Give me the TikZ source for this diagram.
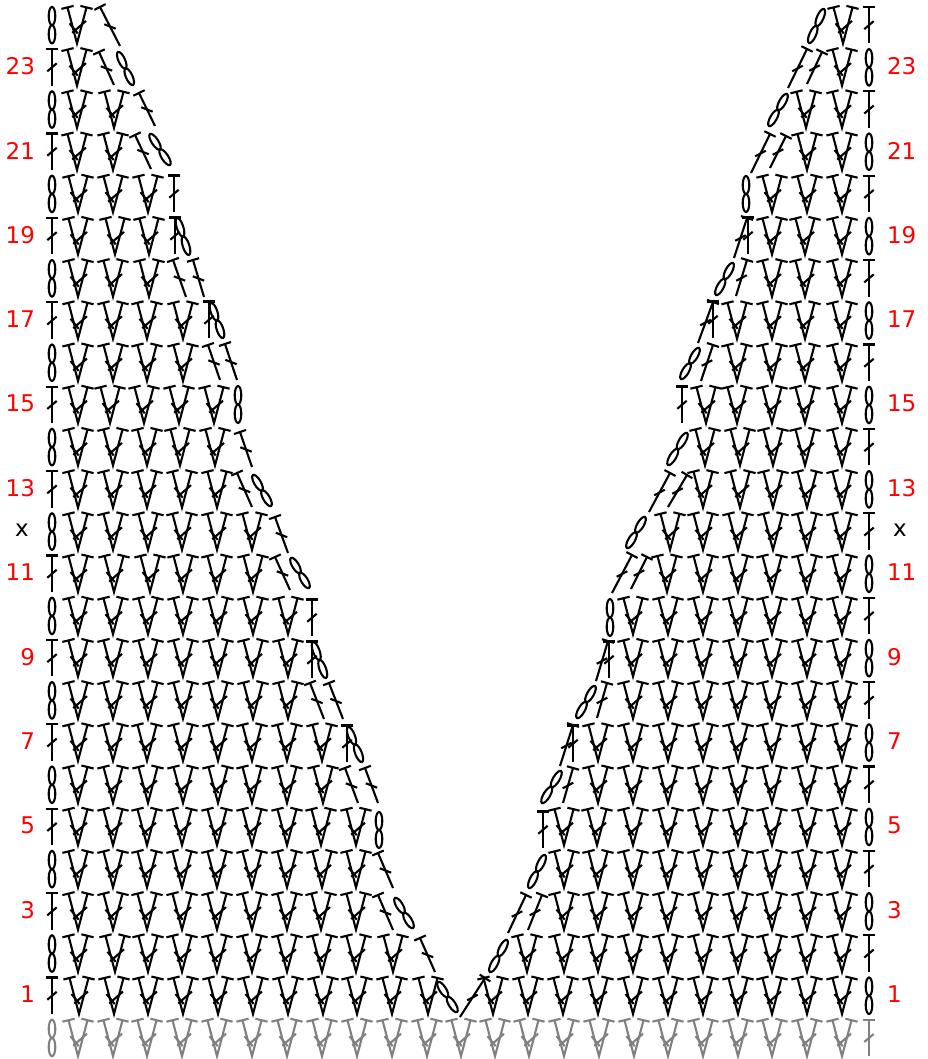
\documentclass[tikz,border=0pt]{standalone}
\usepackage{fontspec}
\setmainfont{DejaVu Sans}
\usetikzlibrary{calc}
\definecolor{rowred}{HTML}{FF0000}
\tikzset{
  stitch/.style={line width=2.1pt},
  rownum/.style={text=rowred,font=\fontsize{23}{23}\selectfont,inner sep=0pt},
  rowx/.style={text=black,font=\fontsize{23}{23}\selectfont,inner sep=0pt}
}
% treble: bottom x,y - top x,y - half of the slash dx,dy
\newcommand{\trst}[6]{
  \pgfmathsetmacro{\stemlen}{veclen(#3-#1,#4-#2)}
  \pgfmathsetmacro{\ux}{(#3-#1)/\stemlen}
  \pgfmathsetmacro{\uy}{(#4-#2)/\stemlen}
  \draw (#1,#2) -- (#3,#4);
  \draw ({#3-6.3*\uy},{#4+6.3*\ux}) -- ({#3+6.3*\uy},{#4-6.3*\ux});
  \draw ({(#1+#3)/2-#5},{(#2+#4)/2-#6}) -- ({(#1+#3)/2+#5},{(#2+#4)/2+#6});
}
% chain: two long loops between two ends
\newcommand{\chst}[4]{
  \pgfmathsetmacro{\chang}{atan2(#4-#2,#3-#1)}
  \pgfmathsetmacro{\chlen}{veclen(#3-#1,#4-#2)/4}
  \draw ({#1+(#3-#1)*.25},{#2+(#4-#2)*.25}) circle[x radius=\chlen,y radius=3.3,rotate=-\chang];
  \draw ({#1+(#3-#1)*.75},{#2+(#4-#2)*.75}) circle[x radius=\chlen,y radius=3.3,rotate=-\chang];
}
% V: two trebles out of one point
\newcommand{\vst}[2]{
  \draw (#1-15.6,#2-34.5) -- (#1-3.4,#2-37.5) (#1-9.5,#2-36) -- (#1,#2) -- (#1+9.5,#2-36) (#1+3.4,#2-37.5) -- (#1+15.6,#2-34.5);
  \draw (#1-7.5,#2-20) -- (#1+.7,#2-10) (#1-4.8,#2-10.5) -- (#1+9,#2-22.5);
}
% all the Vs of a row
\newcommand{\vrow}[2]{
  \pgfmathsetmacro{\yb}{1014-(#1-1)*42.2}
  \foreach \vx in {#2} {\vst{\vx}{\yb}}
}
% edge stitches
\newcommand{\edgetr}[2]{\trst{#1}{#2}{#1}{#2-36.5}{4.7}{-4}}
\newcommand{\edgech}[2]{\chst{#1}{#2}{#1}{#2-36.5}}
\begin{document}
\begin{tikzpicture}[x=1pt,y=-1pt,stitch]
  \useasboundingbox (0,0) rectangle (927,1059);

  % row numbers
  \foreach \r in {1,3,...,23} {
    \pgfmathsetmacro{\ym}{994.5-(\r-1)*42.2}
    \node[rownum,anchor=east] (numl\r) at (36,\ym) {\r};
    \node[rownum,anchor=west] (numr\r) at (886,\ym) {\r};
  }
  \node[rowx] (numlx) at (22,530) {x};
  \node[rowx] (numrx) at (900,530) {x};

  % foundation row
  \begin{scope}[gray]
    \foreach \vx in {78,113,147,182,217,252,287,322,357,392,427,461,495,529,564,599,634,668,703,738,772,807,842} {\vst{\vx}{1056.2}}
    \edgech{52}{1056.2}
    \edgetr{869}{1056.2}
  \end{scope}

  % edges
  \foreach \r in {1,3,...,23} {
    \pgfmathsetmacro{\yb}{1014-(\r-1)*42.2}
    \edgetr{52}{\yb}
    \edgech{869}{\yb}
  }
  \foreach \r in {2,4,...,24} {
    \pgfmathsetmacro{\yb}{1014-(\r-1)*42.2}
    \edgech{52}{\yb}
    \edgetr{869}{\yb}
  }

  % left side
  \vrow{1}{79,114,148,183,218,253,288,323,357,392,428}
  \vrow{2}{78,115,148,182,217,252,287,322,356,393}
  \vrow{3}{78,113,147,182,217,252,287,321,356}
  \vrow{4}{78,113,147,182,217,252,287,322,356}
  \vrow{5}{78,113,147,182,217,252,287,321,356}
  \vrow{6}{78,113,148,183,218,252,287,323}
  \vrow{7}{78,113,147,183,218,252,287,322}
  \vrow{8}{78,113,148,183,218,253,288}
  \vrow{9}{78,113,148,183,218,253,288}
  \vrow{10}{78,113,148,183,218,253,288}
  \vrow{11}{78,114,150,183,217,253}
  \vrow{12}{78,113,148,182,217,252}
  \vrow{13}{78,113,147,182,217}
  \vrow{14}{78,113,147,180,215}
  \vrow{15}{78,110,144,179,214}
  \vrow{16}{78,113,147,183}
  \vrow{17}{78,113,147,183}
  \vrow{18}{78,113,149}
  \vrow{19}{78,115,149}
  \vrow{20}{78,113,148}
  \vrow{21}{77,113}
  \vrow{22}{77,114}
  \vrow{23}{77}
  \vrow{24}{77}

  % right side
  \vrow{1}{493,528,563,598,633,668,703,738,772,807,842}
  \vrow{2}{527,564,598,633,668,703,738,772,807,842}
  \vrow{3}{564,598,633,668,703,738,772,807,842}
  \vrow{4}{564,598,633,668,703,738,772,807,842}
  \vrow{5}{564,597,633,668,703,738,772,807,842}
  \vrow{6}{598,633,668,703,738,772,807,842}
  \vrow{7}{598,633,668,703,738,772,807,842}
  \vrow{8}{633,668,703,738,772,807,842}
  \vrow{9}{633,668,703,738,772,807,842}
  \vrow{10}{633,668,703,738,772,807,842}
  \vrow{11}{667,703,738,772,807,842}
  \vrow{12}{670,703,738,773,807,842}
  \vrow{13}{703,740,773,807,842}
  \vrow{14}{705,740,773,805,842}
  \vrow{15}{706,737,772,805,842}
  \vrow{16}{737,772,805,842}
  \vrow{17}{737,772,805,842}
  \vrow{18}{772,805,842}
  \vrow{19}{772,805,842}
  \vrow{20}{772,807,842}
  \vrow{21}{807,842}
  \vrow{22}{806,842}
  \vrow{23}{842}
  \vrow{24}{843}

  % shaping, left
  \chst{457}{1012}{438}{982}
  \trst{435}{972}{420}{938}{5.7}{2.2}
  \trst{393}{930}{378}{895}{5.7}{2.2}
  \chst{413}{928}{395}{898}
  \trst{393}{888}{378}{853}{5.7}{2.2}
  \chst{379}{848}{379}{812}
  \trst{358}{803}{345}{768}{5.7}{2.2}
  \trst{378}{803}{365}{768}{5.7}{2.2}
  \edgetr{347}{762}
  \chst{362}{762}{348}{727}
  \trst{324}{719}{310}{683}{5.7}{2.2}
  \trst{343}{719}{329}{683}{5.7}{2.2}
  \edgetr{312}{678}
  \chst{326}{678}{313}{642}
  \edgetr{312}{636}
  \trst{290}{590}{275}{557}{5.7}{2.2}
  \chst{309}{588}{291}{558}
  \trst{288}{553}{275}{517}{5.7}{2.2}
  \trst{252}{507}{237}{473}{5.7}{2.2}
  \chst{271}{506}{253}{475}
  \trst{252}{467}{240}{432}{5.7}{2.2}
  \chst{238}{423}{238}{386}
  \trst{220}{380}{208}{345}{5.7}{2.2}
  \trst{237}{380}{225}{344}{5.7}{2.2}
  \edgetr{209}{338}
  \chst{223}{338}{211}{303}
  \trst{186}{297}{173}{260}{5.7}{2.2}
  \trst{204}{297}{193}{260}{5.7}{2.2}
  \edgetr{175}{254}
  \chst{189}{255}{177}{218}
  \edgetr{174}{212}
  \trst{151}{169}{135}{135}{5.7}{2.2}
  \chst{170}{165}{150}{134}
  \trst{155}{126}{139}{93}{5.7}{2.2}
  \trst{114}{85}{99}{52}{5.7}{2.2}
  \chst{133}{85}{118}{52}
  \trst{120}{46}{100}{7}{5.7}{2.2}

  % shaping, right
  \trst{460}{1017}{485}{978}{5.3}{-2.8}
  \chst{490}{972}{507}{940}
  \trst{508}{933}{526}{895}{5.3}{-2.8}
  \trst{528}{930}{542}{895}{5.3}{-2.8}
  \chst{529}{888}{545}{855}
  \edgetr{543}{848}
  \chst{542}{803}{561}{771}
  \trst{563}{803}{573}{768}{5.3}{-2.8}
  \edgetr{573}{762}
  \trst{560}{766}{573}{725}{5.3}{-2.8}
  \chst{577}{718}{595}{686}
  \trst{597}{718}{607}{683}{5.3}{-2.8}
  \edgetr{609}{678}
  \trst{596}{681}{608}{641}{5.3}{-2.8}
  \chst{610}{636}{610}{599}
  \trst{612}{593}{632}{555}{5.3}{-2.8}
  \trst{631}{589}{647}{557}{5.3}{-2.8}
  \chst{627}{548}{645}{517}
  \trst{649}{512}{670}{473}{5.3}{-2.8}
  \trst{668}{507}{687}{475}{5.3}{-2.8}
  \chst{668}{465}{687}{433}
  \edgetr{682}{423}
  \chst{681}{379}{699}{348}
  \trst{701}{381}{713}{345}{5.3}{-2.8}
  \edgetr{713}{338}
  \trst{698}{343}{713}{302}{5.3}{-2.8}
  \chst{716}{295}{733}{263}
  \trst{736}{296}{747}{260}{5.3}{-2.8}
  \edgetr{748}{254}
  \trst{734}{258}{747}{218}{5.3}{-2.8}
  \chst{746}{212}{746}{176}
  \trst{751}{173}{770}{134}{5.3}{-2.8}
  \trst{770}{168}{786}{136}{5.3}{-2.8}
  \chst{769}{126}{787}{94}
  \trst{788}{88}{807}{49}{5.3}{-2.8}
  \trst{807}{84}{822}{52}{5.3}{-2.8}
  \chst{809}{43}{824}{9}
\end{tikzpicture}
\end{document}
